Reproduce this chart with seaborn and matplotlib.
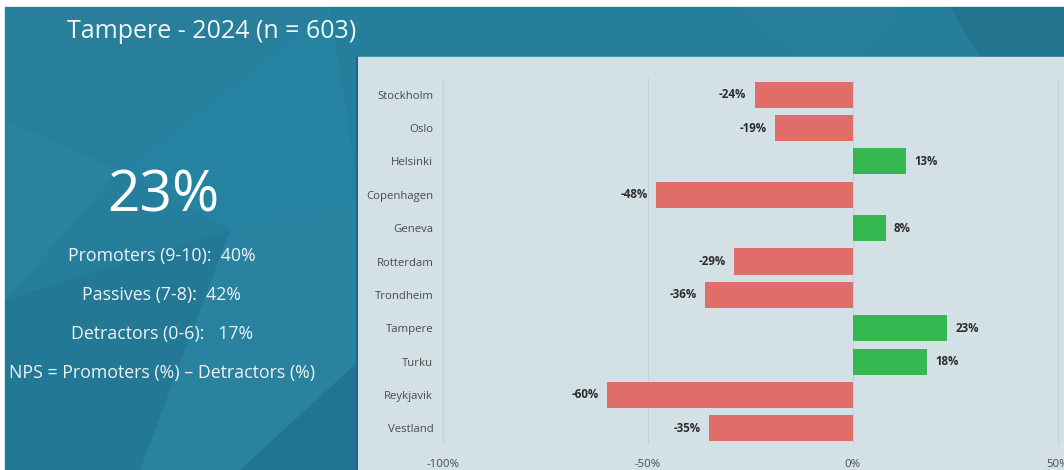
import numpy as np
import pandas as pd
import matplotlib.pyplot as plt
from matplotlib.patches import Rectangle, Polygon
import seaborn as sns

cities = ['Stockholm', 'Oslo', 'Helsinki', 'Copenhagen', 'Geneva', 'Rotterdam',
          'Trondheim', 'Tampere', 'Turku', 'Reykjavik', 'Vestland']
nps = [-24, -19, 13, -48, 8, -29, -36, 23, 18, -60, -35]

title = 'Tampere - 2024 (n = 603)'
headline = '23%'
summary_lines = ['Promoters (9-10):  40%', 'Passives (7-8):  42%',
                 'Detractors (0-6):   17%', 'NPS = Promoters (%) \u2013 Detractors (%)']
xticks = [-100, -50, 0, 50]

df = pd.DataFrame({'city': cities, 'nps': nps})
df['sign'] = np.where(df['nps'] >= 0, 'pos', 'neg')

sns.set_theme(style='white')
plt.rcParams['font.family'] = ['Open Sans', 'DejaVu Sans']

W, H = 1064, 470
fig = plt.figure(figsize=(W / 100, H / 100), dpi=100)
fig.patch.set_facecolor('white')

# background panel with faint low-poly shading
bg = fig.add_axes([0, 0, 1, 1])
bg.set_xlim(0, W)
bg.set_ylim(H, 0)
bg.axis('off')
bg.add_patch(Rectangle((5, 7), W - 5, H - 7, color='#257e9b', zorder=0))
polys = [
    ([(5, 7), (330, 7), (120, 170), (5, 120)], '#277f9b'),
    ([(5, 120), (120, 170), (5, 300)], '#2883a0'),
    ([(120, 170), (330, 7), (360, 200), (230, 230)], '#2582a0'),
    ([(230, 230), (360, 200), (360, 470), (140, 470)], '#2882a0'),
    ([(5, 300), (230, 230), (140, 470), (5, 470)], '#237895'),
    ([(240, 470), (360, 360), (360, 470)], '#227592'),
    ([(740, 7), (900, 7), (860, 57), (800, 57)], '#28809c'),
    ([(950, 7), (1064, 7), (1064, 57), (980, 57)], '#22748f'),
]
for pts, c in polys:
    bg.add_patch(Polygon(pts, closed=True, color=c, zorder=1, lw=0))
bg.add_patch(Rectangle((357, 57), W - 357, H - 57, color='#d3e1e6', zorder=2))
bg.plot([357, 357], [57, H], color='#1d6a85', lw=1.5, zorder=3)

bg.text(67, 32, title, color='#f2f6f8', fontsize=18, va='center', ha='left', zorder=4)
bg.text(163, 197, headline, color='white', fontsize=41, va='center', ha='center', zorder=4)
for i, line in enumerate(summary_lines):
    bg.text(162, 256 + i * 39, line, color='#eef3f5', fontsize=12.8, va='center',
            ha='center', zorder=4)

# bar chart
x_left, x_right = -100, 51.5
ax = fig.add_axes([443 / W, (H - 445) / H, (W - 443) / W, (445 - 78) / H])
ax.patch.set_alpha(0)
sns.barplot(data=df, x='nps', y='city', hue='sign', orient='h', ax=ax,
            palette={'neg': '#e06d67', 'pos': '#35b84f'}, width=0.78,
            saturation=1, linewidth=0, legend=False, dodge=False, zorder=3)
ax.set_xlim(x_left, x_right)
ax.set_xticks(xticks)
ax.set_xticklabels([f'{t}%' for t in xticks])
for t in xticks:
    ax.axvline(t, color='#c4d3d9', lw=0.8, zorder=1)
ax.set_xlabel('')
ax.set_ylabel('')
for s in ax.spines.values():
    s.set_visible(False)
ax.tick_params(axis='both', length=0, labelsize=8.2, labelcolor='#4a4a4a')
ax.tick_params(axis='y', pad=7)
ax.tick_params(axis='x', pad=10)

for i, v in enumerate(nps):
    if v < 0:
        ax.text(v - 2, i, f'{v}%', ha='right', va='center', fontsize=8.3,
                fontweight='bold', color='#2b2b2b', zorder=4)
    else:
        ax.text(v + 2, i, f'{v}%', ha='left', va='center', fontsize=8.3,
                fontweight='bold', color='#2b2b2b', zorder=4)

fig.savefig('out.png', dpi=100)
